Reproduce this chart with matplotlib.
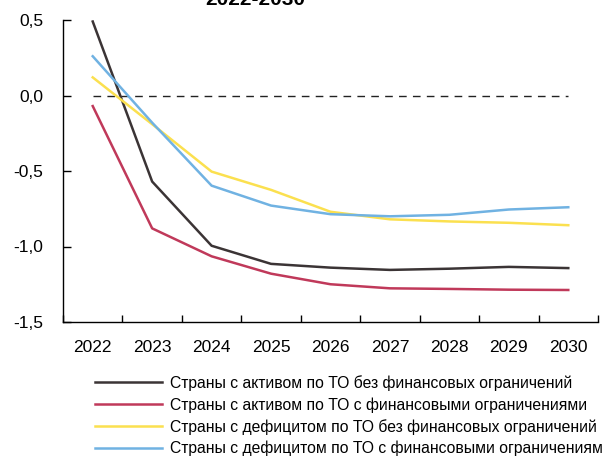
import numpy as np
import matplotlib.pyplot as plt

plt.rcParams['font.family'] = ['Liberation Sans', 'DejaVu Sans']

years = ['2022', '2023', '2024', '2025', '2026', '2027', '2028', '2029', '2030']

# Values
surplus_no_fin = [0.49, -0.57, -0.995, -1.115, -1.14, -1.155, -1.147, -1.135, -1.143]
surplus_fin = [-0.07, -0.88, -1.065, -1.18, -1.25, -1.277, -1.281, -1.286, -1.288]
deficit_no_fin = [0.12, -0.19, -0.504, -0.625, -0.77, -0.82, -0.834, -0.843, -0.859]
deficit_fin = [0.26, -0.18, -0.597, -0.729, -0.786, -0.80, -0.79, -0.755, -0.74]

labels = [
    'Страны с активом по ТО без финансовых ограничений',
    'Страны с активом по ТО с финансовыми ограничениями',
    'Страны с дефицитом по ТО без финансовых ограничений',
    'Страны с дефицитом по ТО с финансовыми ограничениями',
]
colors = ['#3b3435', '#c0395a', '#fbe04f', '#70b2e2']

W, H = 602, 457
fig = plt.figure(figsize=(W / 100, H / 100), dpi=100)
ax = fig.add_axes([63 / W, 1 - 322 / H, 535 / W, 302 / H])

x = np.arange(len(years))
for vals, lab, col in zip([surplus_no_fin, surplus_fin, deficit_no_fin, deficit_fin], labels, colors):
    ax.plot(x, vals, color=col, lw=1.8, label=lab)

ax.hlines(0, x[0], x[-1], color='#222222', lw=1.0, linestyles=(0, (5.5, 4.5)), zorder=0)

ax.set_xlim(-0.5, 8.5)
ax.set_ylim(-1.5, 0.5)
ax.set_yticks([0.5, 0.0, -0.5, -1.0, -1.5])
ax.set_yticklabels(['0,5', '0,0', '-0,5', '-1,0', '-1,5'], fontsize=12.5)
ax.set_xticks(x)
ax.set_xticklabels(years, fontsize=12.5)
ax.tick_params(axis='x', length=0, pad=13)
ax.set_xticks(np.arange(-0.5, 9.0, 1.0), minor=True)
ax.tick_params(axis='x', which='minor', length=5, direction='in', width=1)
ax.tick_params(axis='y', length=6, width=1, direction='in', pad=14)
for s in ['top', 'right']:
    ax.spines[s].set_visible(False)
for s in ['left', 'bottom']:
    ax.spines[s].set_linewidth(1.0)

fig.text(255 / W, 1 - 5 / H, '2022-2030', ha='center', va='baseline',
         fontsize=15, fontweight='bold')

fig.legend(loc='upper left', bbox_to_anchor=(95 / W, 1 - 375 / H), frameon=False,
           fontsize=11.3, handlelength=4.3, handletextpad=0.5, labelspacing=0.4,
           borderaxespad=0, borderpad=0)

fig.savefig('out.png', dpi=100)
